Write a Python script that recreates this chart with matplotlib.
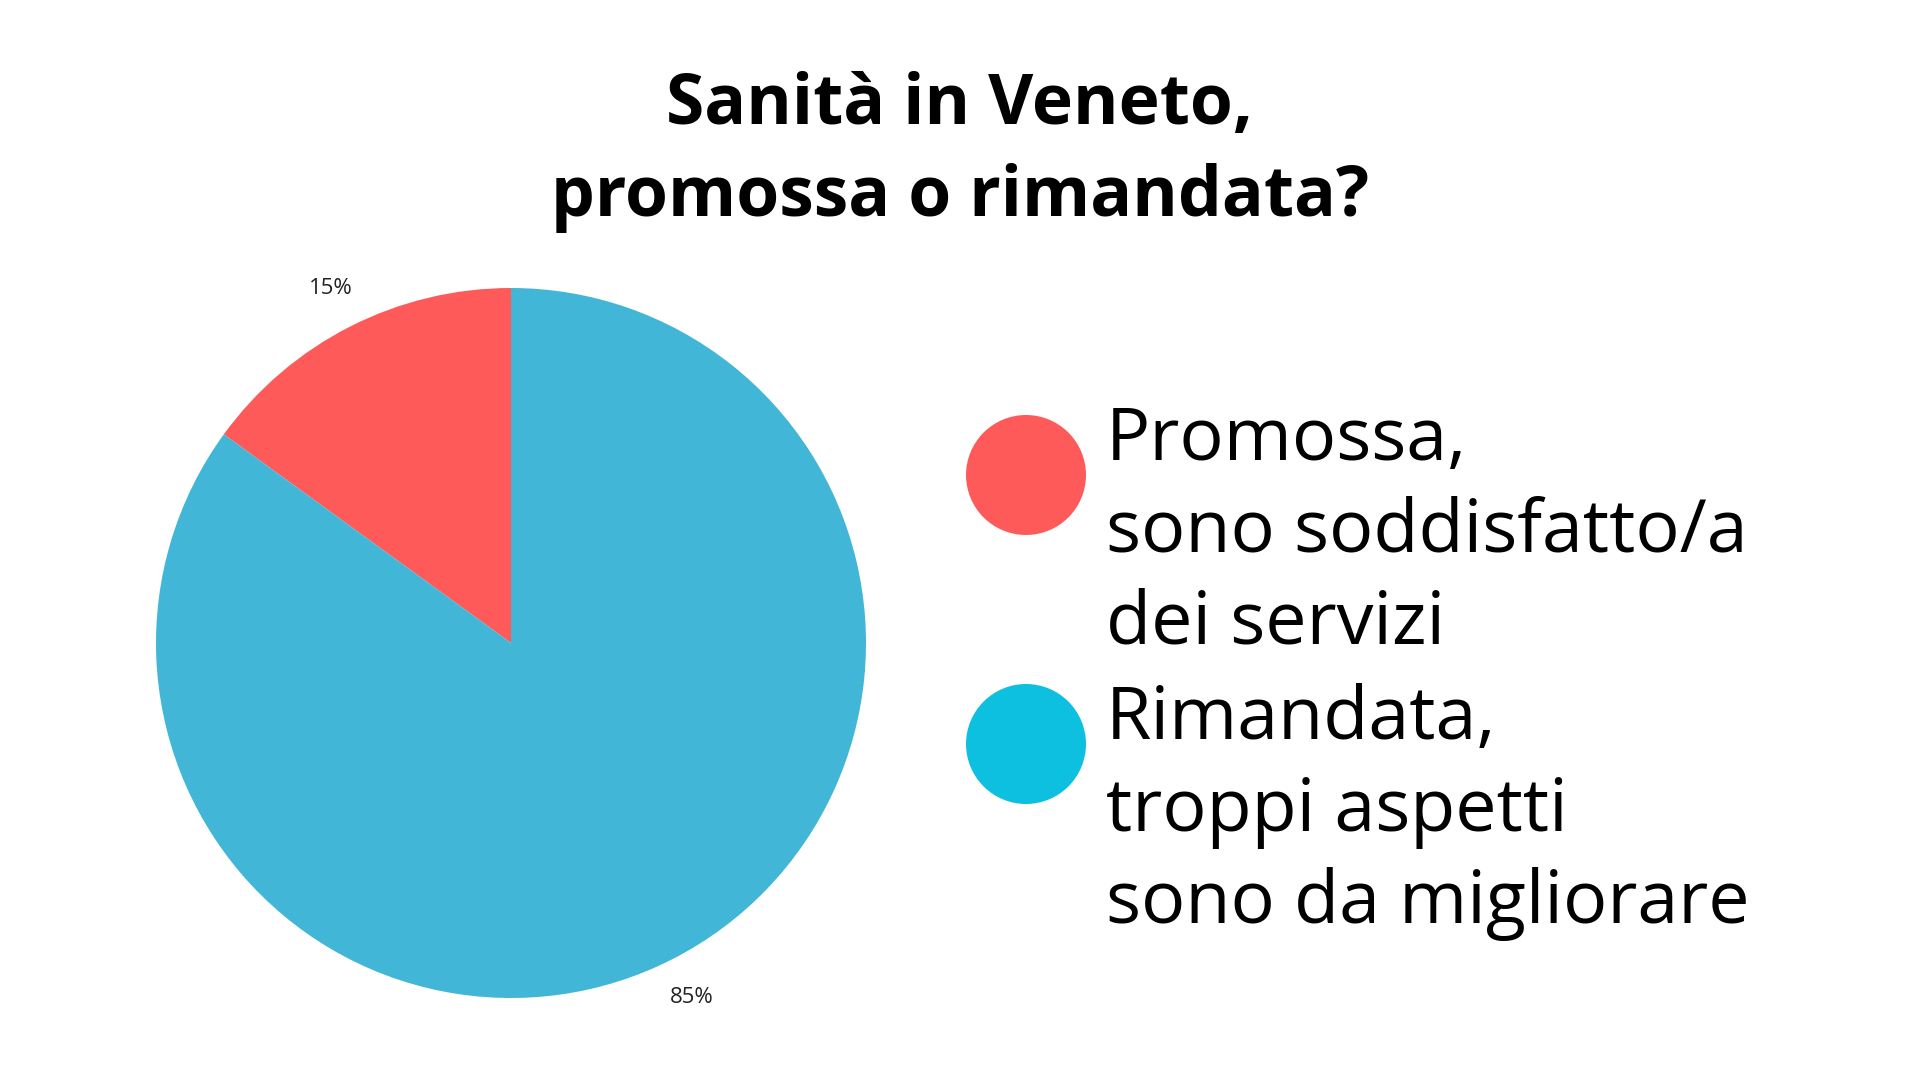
import numpy as np
import matplotlib.pyplot as plt
from matplotlib.patches import Circle

# Data
labels = [["Promossa,", "sono soddisfatto/a", "dei servizi"],
          ["Rimandata,", "troppi aspetti", "sono da migliorare"]]
values = [15, 85]
pie_colors = ["#FF5A5A", "#42B6D6"]
legend_colors = ["#FF5A5A", "#0DC0DF"]
title = "Sanità in Veneto,\npromossa o rimandata?"

plt.rcParams['font.family'] = ['Open Sans', 'DejaVu Sans']

fig = plt.figure(figsize=(19.2, 10.8), dpi=100)
fig.patch.set_facecolor("white")

# pie axes (center ~ (511, 643) px, radius 355 px)
cx, cy, r = 511, 643, 355
ax = fig.add_axes([(cx - r) / 1920, 1 - (cy + r) / 1080, 2 * r / 1920, 2 * r / 1080])
wedges, texts = ax.pie(values, colors=pie_colors, startangle=90, counterclock=True,
                       radius=1, wedgeprops=dict(linewidth=0))
for w, v in zip(wedges, values):
    ang = np.deg2rad((w.theta1 + w.theta2) / 2)
    ax.text(1.12 * np.cos(ang), 1.12 * np.sin(ang), f"{v}%", ha="center", va="center",
            fontsize=16, color="#222222")
ax.set_xlim(-1, 1)
ax.set_ylim(-1, 1)
ax.set_aspect("equal")
ax.axis("off")

# overlay for title and legend, pixel coordinates
ov = fig.add_axes([0, 0, 1, 1])
ov.set_xlim(0, 1920)
ov.set_ylim(1080, 0)
ov.axis("off")

ov.text(960, 152, title, ha="center", va="center", fontsize=50, fontweight="bold",
        linespacing=1.4, color="black")

line_y = [[441, 533, 625], [720, 812, 904]]
circle_y = [475, 744]
for lines, col, ys, ccy in zip(labels, legend_colors, line_y, circle_y):
    ov.add_patch(Circle((1026, ccy), 60, color=col, lw=0))
    for txt, y in zip(lines, ys):
        ov.text(1106, y, txt, ha="left", va="center", fontsize=53, color="black")

fig.savefig("out.png", dpi=100)
